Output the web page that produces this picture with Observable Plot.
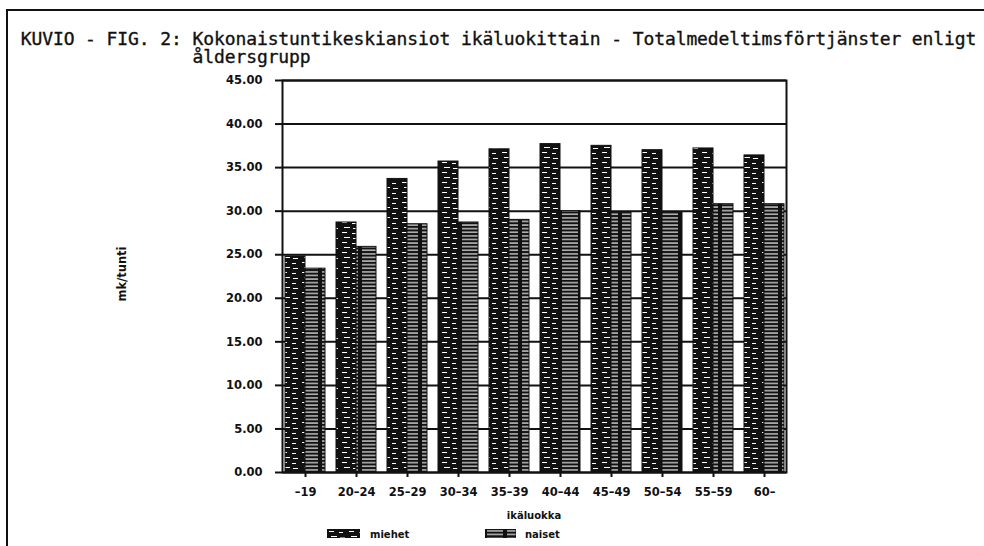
<!DOCTYPE html>
<html><head><meta charset="utf-8">
<script src="https://cdn.jsdelivr.net/npm/d3@7"></script>
<script src="https://cdn.jsdelivr.net/npm/@observablehq/plot@0.6"></script>
<style>
html,body{margin:0;padding:0;background:#fff;}
#wrap{position:relative;width:984px;height:546px;overflow:hidden;background:#fff;}
#frameTop{position:absolute;left:6px;top:9px;width:978px;height:0;border-top:2px solid #111;}
#frameLeft{position:absolute;left:6px;top:9px;width:0;height:537px;border-left:2px solid #111;}
#title{position:absolute;left:20.7px;top:30px;font-family:"DejaVu Sans Mono",monospace;font-size:18px;line-height:18px;letter-spacing:-0.1px;white-space:pre;color:#111;margin:0;z-index:2;-webkit-text-stroke:0.35px #111;}
#chart{position:absolute;left:0;top:0;}
.lbl{position:absolute;font-family:"DejaVu Sans",sans-serif;font-weight:bold;color:#111;white-space:nowrap;z-index:2;}
#ylab{left:122px;top:274px;font-size:11.5px;transform:translate(-50%,-50%) rotate(-90deg);}
#xlab{left:534px;top:515px;font-size:10px;transform:translate(-50%,-50%);}
.sw{position:absolute;z-index:2;}
</style>
</head><body>
<div id="wrap">
  <div id="frameTop"></div>
  <div id="frameLeft"></div>
  <div id="title"></div>
  <div id="chart"></div>
  <div class="lbl" id="ylab"></div>
  <div class="lbl" id="xlab"></div>
  <svg class="sw" id="swM" style="left:327px;top:529px" width="33" height="9"><rect width="33" height="9" fill="url(#pMen)" stroke="#111" stroke-width="1"/></svg>
  <div class="lbl" id="legM" style="left:370px;top:534px;font-size:10px;transform:translateY(-50%)"></div>
  <svg class="sw" id="swW" style="left:485px;top:529px" width="31" height="9"><rect width="31" height="9" fill="url(#pWomen)" stroke="#111" stroke-width="1"/></svg>
  <div class="lbl" id="legW" style="left:525px;top:534px;font-size:10px;transform:translateY(-50%)"></div>
</div>
<script>
const titleLines = ["KUVIO - FIG. 2: Kokonaistuntikeskiansiot ikäluokittain - Totalmedeltimsförtjänster enligt", "                åldersgrupp"];
const yLabel = "mk/tunti";
const xLabel = "ikäluokka";
const seriesNames = ["miehet", "naiset"];
const groups = ["–19","20–24","25–29","30–34","35–39","40–44","45–49","50–54","55–59","60–"];
const miehet = [24.8, 28.7, 33.7, 35.7, 37.1, 37.7, 37.5, 37.0, 37.2, 36.4];
const naiset = [23.4, 25.9, 28.5, 28.7, 29.0, 30.0, 29.8, 29.8, 30.8, 30.8];
const yTicks = [0, 5, 10, 15, 20, 25, 30, 35, 40, 45];

document.getElementById("title").textContent = titleLines.join("\n");
document.getElementById("ylab").textContent = yLabel;
document.getElementById("xlab").textContent = xLabel;
document.getElementById("legM").textContent = seriesNames[0];
document.getElementById("legW").textContent = seriesNames[1];

const rows = groups.map((g, i) => ({group: g, miehet: miehet[i], naiset: naiset[i]}));

const chart = Plot.plot({
  width: 984, height: 546,
  marginTop: 80, marginBottom: 74, marginLeft: 282, marginRight: 198,
  style: {fontFamily: "DejaVu Sans, sans-serif", fontWeight: "bold", fontSize: "11.5px", color: "#111", background: "transparent"},
  x: {domain: groups, paddingInner: 0.225, paddingOuter: 0, align: 0.5, axis: null},
  y: {domain: [0, 45], axis: null},
  marks: [
    Plot.ruleY(yTicks, {stroke: "#111", strokeWidth: 2}),
    Plot.barY(rows, {x: "group", y: "miehet", fill: "url(#pMen)", stroke: "#111", strokeWidth: 1, insetRight: 20}),
    Plot.barY(rows, {x: "group", y: "naiset", fill: "url(#pWomen)", stroke: "#111", strokeWidth: 1, insetLeft: 20}),
    Plot.frame({stroke: "#111", strokeWidth: 2}),
    Plot.axisY({ticks: yTicks, tickFormat: d3.format(".2f"), tickSize: 7, tickPadding: 13, strokeWidth: 2, fontSize: 11.5, label: null}),
    Plot.axisX({tickSize: 5, tickPadding: 10, strokeWidth: 2, fontSize: 11.5, label: null})
  ]
});
document.getElementById("chart").appendChild(chart);

// hatch patterns
const svg = d3.select(chart);
const defs = svg.insert("defs", ":first-child");
const pm = defs.append("pattern").attr("id", "pMen").attr("patternUnits", "userSpaceOnUse")
  .attr("width", 20).attr("height", 10);
pm.append("rect").attr("width", 20).attr("height", 10).attr("fill", "#111");
[[2,2,5,1],[12,3,4,1],[4,7,6,1],[13,8,5,1]].forEach(([x,y,w,h]) =>
  pm.append("rect").attr("x", x).attr("y", y).attr("width", w).attr("height", h).attr("fill", "#fff"));
const pw = defs.append("pattern").attr("id", "pWomen").attr("patternUnits", "userSpaceOnUse")
  .attr("width", 20).attr("height", 3.6);
pw.append("rect").attr("width", 20).attr("height", 3.6).attr("fill", "#111");
pw.append("rect").attr("x", 2).attr("y", 1.3).attr("width", 16).attr("height", 1.1).attr("fill", "#fff");
</script>
</body></html>
